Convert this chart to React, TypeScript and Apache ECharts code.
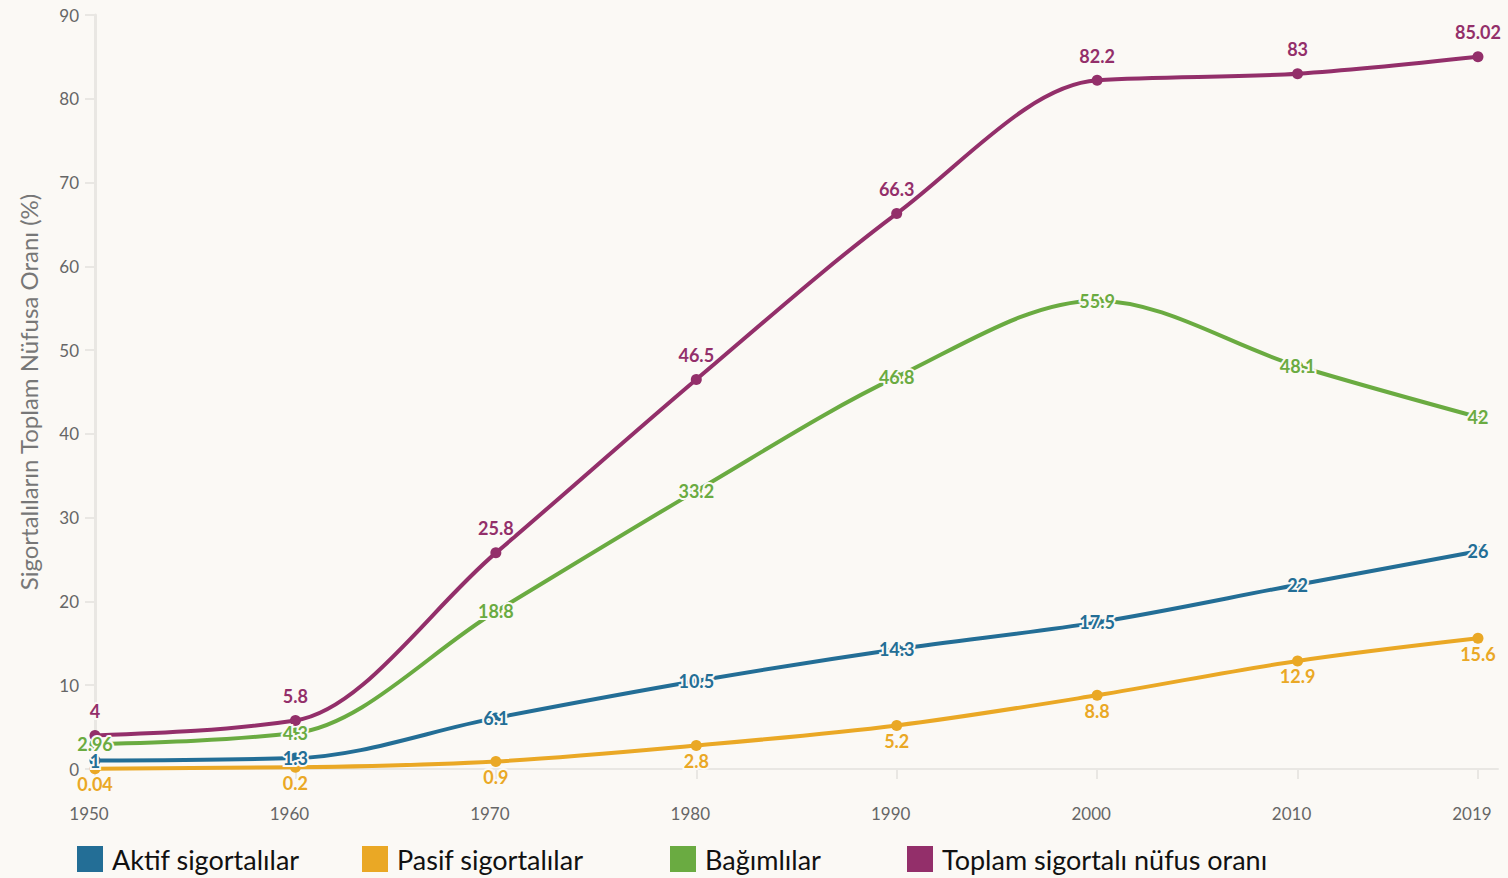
import React, { useEffect, useRef } from "react";
import * as echarts from "echarts";

const years = [1950, 1960, 1970, 1980, 1990, 2000, 2010, 2019];
const aktif = [1, 1.3, 6.1, 10.5, 14.3, 17.5, 22, 26];
const pasif = [0.04, 0.2, 0.9, 2.8, 5.2, 8.8, 12.9, 15.6];
const bagimli = [2.96, 4.3, 18.8, 33.2, 46.8, 55.9, 48.1, 42];
const toplam = [4, 5.8, 25.8, 46.5, 66.3, 82.2, 83, 85.02];
const seriesNames = ["Aktif sigortalılar", "Pasif sigortalılar", "Bağımlılar", "Toplam sigortalı nüfus oranı"];
const colors = ["#236e96", "#eaa825", "#6aab41", "#932f6a"];
const legendLefts = [77, 362, 670, 907];

const BG = "#fbf9f5";
const FONT = "Lato, 'Noto Sans', sans-serif";

// monotone-x cubic path through pixel points (same approach as d3.curveMonotoneX)
function monotonePath(pts: number[][]): string {
  const n = pts.length;
  if (n < 2) return "";
  const sign = (v: number) => (v < 0 ? -1 : 1);
  const h: number[] = [];
  const s: number[] = [];
  for (let i = 0; i < n - 1; i++) {
    h.push(pts[i + 1][0] - pts[i][0]);
    s.push((pts[i + 1][1] - pts[i][1]) / h[i]);
  }
  const t: number[] = new Array(n).fill(0);
  for (let i = 1; i < n - 1; i++) {
    const s0 = s[i - 1], s1 = s[i];
    const p = (s0 * h[i] + s1 * h[i - 1]) / (h[i - 1] + h[i]);
    t[i] = (sign(s0) + sign(s1)) * Math.min(Math.abs(s0), Math.abs(s1), 0.5 * Math.abs(p)) || 0;
  }
  t[0] = n > 2 ? (3 * s[0] - t[1]) / 2 : s[0];
  t[n - 1] = n > 2 ? (3 * s[n - 2] - t[n - 2]) / 2 : s[0];
  let d = `M${pts[0][0]},${pts[0][1]}`;
  for (let i = 0; i < n - 1; i++) {
    const [x0, y0] = pts[i];
    const [x1, y1] = pts[i + 1];
    const dx = (x1 - x0) / 3;
    d += ` C${x0 + dx},${y0 + dx * t[i]} ${x1 - dx},${y1 - dx * t[i + 1]} ${x1},${y1}`;
  }
  return d;
}

export default function App() {
  const ref = useRef<HTMLDivElement>(null);
  useEffect(() => {
    if (!ref.current) return;
    const chart = echarts.init(ref.current, null, { renderer: "svg" });
    const values = [aktif, pasif, bagimli, toplam];
    const positions = ["inside", "bottom", "inside", "top"];
    const distances = [0, 1, 0, 10];
    const lineSeries: any[] = [];
    const pointSeries: any[] = [];
    seriesNames.forEach((name, i) => {
      const data = years.map((y, j) => [y, values[i][j]]);
      lineSeries.push({
        name: name + " eğri",
        type: "custom",
        data,
        encode: { x: 0, y: 1 },
        clip: false,
        silent: true,
        z: 2,
        renderItem: (params: any, api: any) => {
          if (params.dataIndex !== 0) return null;
          const pts = data.map((d) => api.coord(d));
          return {
            type: "path",
            shape: { pathData: monotonePath(pts) },
            style: { stroke: colors[i], fill: "none", lineWidth: 4 },
          };
        },
      });
      pointSeries.push({
        name,
        type: "line",
        data,
        symbol: "circle",
        symbolSize: 11,
        showSymbol: true,
        itemStyle: { color: colors[i] },
        lineStyle: { color: colors[i], width: 0, opacity: 0 },
        label: {
          show: true,
          position: positions[i],
          distance: distances[i],
          color: colors[i],
          fontFamily: FONT,
          fontWeight: "bold",
          fontSize: 18,
          textBorderColor: BG,
          textBorderWidth: 4,
          formatter: (p: any) => String(p.value[1]),
        },
        z: 3,
      });
    });
    chart.setOption({
      animation: false,
      backgroundColor: BG,
      textStyle: { fontFamily: FONT },
      grid: { left: 95, right: 10, top: 15, bottom: 109 },
      legend: seriesNames.map((n, i) => ({
        data: [n],
        left: legendLefts[i],
        top: 845,
        padding: 0,
        icon: "rect",
        itemWidth: 26,
        itemHeight: 26,
        selectedMode: false,
        textStyle: { fontSize: 27, lineHeight: 28, color: "#111", fontFamily: FONT, padding: [0, 0, 0, 4] },
      })),
      xAxis: {
        type: "value",
        min: 1950,
        max: 2020,
        axisLine: { show: true, lineStyle: { color: "#e9e7e3", width: 2 } },
        axisTick: {
          show: true,
          customValues: years,
          length: 10,
          lineStyle: { color: "#e9e7e3", width: 2 },
        },
        axisLabel: {
          customValues: years,
          margin: 36,
          fontSize: 17,
          color: "#666",
          fontFamily: FONT,
          padding: [0, 12, 0, 0],
          formatter: (v: number) => String(v),
        },
        splitLine: { show: false },
      },
      yAxis: {
        type: "value",
        min: 0,
        max: 90,
        interval: 10,
        name: "Sigortalıların Toplam Nüfusa Oranı (%)",
        nameLocation: "middle",
        nameRotate: 90,
        nameGap: 55,
        nameTextStyle: { fontSize: 24, color: "#777", fontFamily: FONT },
        axisLine: { show: true, lineStyle: { color: "#e9e7e3", width: 3 } },
        axisTick: { show: true, length: 10, lineStyle: { color: "#e9e7e3", width: 2 } },
        axisLabel: { margin: 16, fontSize: 17, color: "#666", fontFamily: FONT },
        splitLine: { show: false },
      },
      series: [...lineSeries, ...pointSeries],
    });
    return () => chart.dispose();
  }, []);
  return <div ref={ref} style={{ width: 1508, height: 878, position: "absolute", left: 0, top: 0 }} />;
}
